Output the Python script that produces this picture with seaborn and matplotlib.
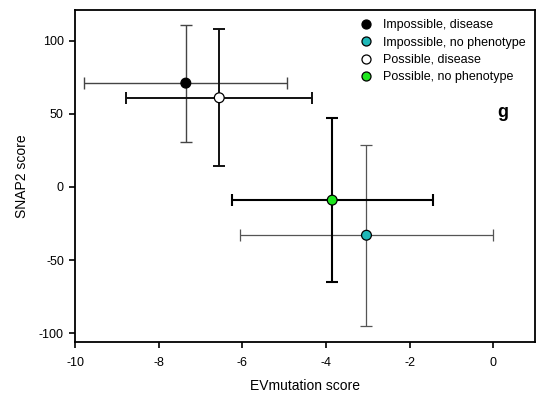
import matplotlib
matplotlib.use("Agg")
import matplotlib.pyplot as plt
import seaborn as sns
import pandas as pd

groups = ["Impossible, disease", "Impossible, no phenotype", "Possible, disease", "Possible, no phenotype"]
ev_mean = [-7.35, -3.03, -6.55, -3.85]
ev_err = [2.43, 3.03, 2.22, 2.40]
snap_mean = [71, -33, 61, -9]
snap_err = [40, 62, 47, 56]
face_colors = ["#000000", "#1fb8b8", "#ffffff", "#1ee61e"]
bar_colors = ["#444444", "#555555", "#111111", "#000000"]
bar_widths = [1.0, 0.9, 1.4, 1.5]
x_ticks = [-10, -8, -6, -4, -2, 0]
y_ticks = [-100, -50, 0, 50, 100]

df = pd.DataFrame({"group": groups, "ev": ev_mean, "snap": snap_mean})

sns.set_style("ticks")
plt.rcParams["font.family"] = ["Liberation Sans", "DejaVu Sans"]
plt.rcParams["axes.unicode_minus"] = False
plt.rcParams["text.color"] = "black"
plt.rcParams["axes.labelcolor"] = "black"
plt.rcParams["xtick.color"] = "black"
plt.rcParams["ytick.color"] = "black"
plt.rcParams["axes.edgecolor"] = "black"

fig = plt.figure(figsize=(5.37, 3.96), dpi=100)
ax = fig.add_axes([75 / 537, 1 - 342 / 396, 460 / 537, 332 / 396])

# error bars first so the markers sit on top
for i in range(len(groups)):
    ax.errorbar(ev_mean[i], snap_mean[i], xerr=ev_err[i], yerr=snap_err[i],
                fmt="none", ecolor=bar_colors[i], elinewidth=bar_widths[i],
                capsize=4.5, capthick=bar_widths[i], zorder=2)

sns.scatterplot(data=df, x="ev", y="snap", hue="group", hue_order=groups,
                palette=dict(zip(groups, face_colors)), s=50,
                edgecolor="black", linewidth=0.9, ax=ax, zorder=3)

ax.set_xlim(-10, 1)
ax.set_ylim(-106, 121)
ax.set_xticks(x_ticks)
ax.set_yticks(y_ticks)
ax.tick_params(axis="both", labelsize=9, length=4, width=1.2, direction="out")
ax.tick_params(axis="x", pad=7)
ax.tick_params(axis="y", pad=4)
for side in ["left", "bottom", "top", "right"]:
    ax.spines[side].set_linewidth(1.3)
    ax.spines[side].set_visible(True)
ax.set_xlabel("EVmutation score", fontsize=10, labelpad=7)
ax.set_ylabel("SNAP2 score", fontsize=10, labelpad=7)

leg = ax.legend(loc="upper right", frameon=False, fontsize=9, handletextpad=0.9,
                labelspacing=0.42, borderaxespad=0.35, handlelength=1.0)
for h in leg.legend_handles:
    h.set_markersize(6.5)
    h.set_markeredgecolor("black")

ax.text(0.93, 0.69, "g", transform=ax.transAxes, fontsize=13, fontweight="bold",
        ha="center", va="center")

fig.savefig("out.png", dpi=100)
